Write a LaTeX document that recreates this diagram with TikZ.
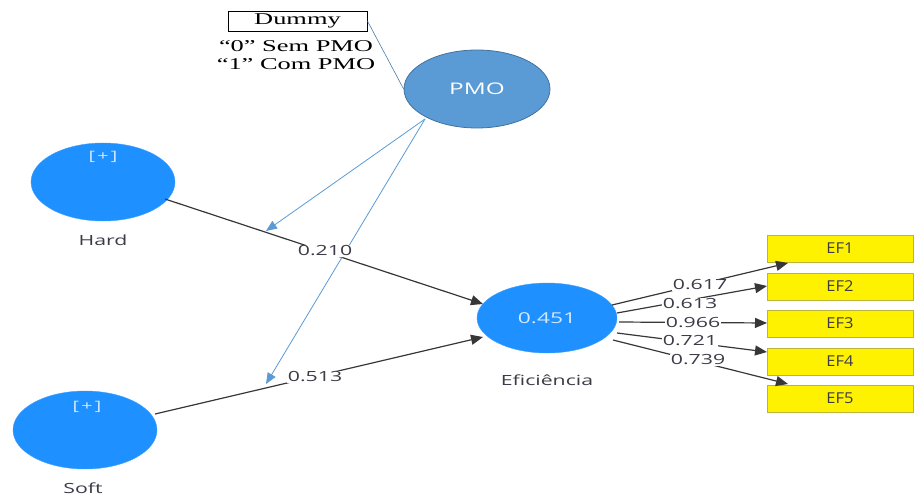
\documentclass[tikz,border=0pt]{standalone}
\usepackage{fontspec}
\setmainfont{Liberation Serif}
\newfontfamily\uifont[FakeStretch=1.52]{Open Sans}
\newfontfamily\uiplain[FakeStretch=1.1]{Open Sans}
\newfontfamily\serifwide[FakeStretch=1.6]{Liberation Serif}
\usetikzlibrary{arrows.meta,shapes.geometric}
\definecolor{lvblue}{RGB}{30,144,255}
\definecolor{pmoblue}{RGB}{91,155,213}
\definecolor{pmoedge}{RGB}{65,113,156}
\definecolor{linegray}{RGB}{55,55,55}
\definecolor{txtgray}{RGB}{60,60,72}
\tikzset{
  latent/.style={ellipse, fill=lvblue, draw=lvblue!85!white, minimum width=144pt, minimum height=78pt, inner sep=0pt},
  indbox/.style={rectangle, fill=yellow, draw=yellow!70!black, line width=0.6pt, minimum width=146pt, minimum height=27pt, font=\uiplain\fontsize{15}{16}\selectfont, text=txtgray},
  lbl/.style={font=\uifont\fontsize{14}{16}\selectfont, text=txtgray},
  coef/.style={fill=white, inner sep=1pt, font=\uifont\fontsize{14}{16}\selectfont, text=txtgray},
  path/.style={draw=linegray, line width=1.2pt, -{Triangle[length=12pt,width=10pt]}},
  modarrow/.style={draw=pmoblue, line width=0.8pt, -{Triangle[length=11pt,width=9pt]}},
  plus/.style={font=\uifont\fontsize{13}{14}\selectfont, text=white!80!lvblue},
  dtext/.style={font=\serifwide\fontsize{16.5}{18}\selectfont, inner sep=0pt}
}
\begin{document}
\begin{tikzpicture}[x=1pt,y=-1pt]
\useasboundingbox (0,0) rectangle (915,495);
% Dummy
\node[draw=black, line width=0.9pt, minimum width=139pt, minimum height=20pt, dtext] (dummy) at (297.5,21) {Dummy};
\node[dtext] (d0) at (296,46) {“0” Sem PMO};
\node[dtext] (d1) at (296,64) {“1” Com PMO};
% PMO
\node[ellipse, fill=pmoblue, draw=pmoedge, line width=0.8pt, minimum width=146pt, minimum height=78pt, font=\uifont\fontsize{16}{18}\selectfont, text=white] (pmo) at (477,89) {PMO};
\draw[draw=pmoblue!80!black, line width=0.6pt] (dummy.east) -- (pmo.west);
% latent variables
\node[latent] (hard) at (103,182) {};
\node[plus] (hplus) at (103,157) {[\,+\,]};
\node[lbl] (hlab) at (103,240) {Hard};
\node[latent] (soft) at (85,430) {};
\node[plus] (splus) at (87,407) {[\,+\,]};
\node[lbl] (slab) at (83,488) {Soft};
\node[latent, minimum width=140pt, minimum height=70pt, font=\uifont\fontsize{15}{17}\selectfont, text=white!80!lvblue] (ef) at (547,318) {0.451};
\node[lbl] (eflab) at (547,380) {Eficiência};
% indicators
\node[indbox] (ef1) at (840,248.5) {EF1};
\node[indbox] (ef2) at (840,286.5) {EF2};
\node[indbox] (ef3) at (840,323.5) {EF3};
\node[indbox] (ef4) at (840,361.5) {EF4};
\node[indbox] (ef5) at (840,398.5) {EF5};
% coordinates
\coordinate (h0) at (165,199);
\coordinate (h1) at (483,304);
\coordinate (s0) at (155,414);
\coordinate (s1) at (483,337);
\coordinate (p0) at (425,119);
\coordinate (m1) at (266,231);
\coordinate (m2) at (266,384);
\coordinate (e1a) at (612,305);
\coordinate (e2a) at (617,313);
\coordinate (e3a) at (619,322);
\coordinate (e4a) at (617,333);
\coordinate (e5a) at (613,340);
\coordinate (e1b) at (788,263);
\coordinate (e2b) at (767,286);
\coordinate (e3b) at (767,323);
\coordinate (e4b) at (767,352);
\coordinate (e5b) at (788,384);
% structural paths
\draw[path] (h0) -- (h1);
\draw[path] (s0) -- (s1);
% moderating arrows
\draw[modarrow] (p0) -- (m1);
\draw[modarrow] (p0) -- (m2);
% coefficients
\node[coef] (c1) at (325,251) {0.210};
\node[coef] (c2) at (315,377) {0.513};
% outer loadings
\draw[path] (e1a) -- (e1b);
\draw[path] (e2a) -- (e2b);
\draw[path] (e3a) -- (e3b);
\draw[path] (e4a) -- (e4b);
\draw[path] (e5a) -- (e5b);
\node[coef] (l1) at (700,285) {0.617};
\node[coef] (l2) at (690,304) {0.613};
\node[coef] (l3) at (693,323) {0.966};
\node[coef] (l4) at (690,341) {0.721};
\node[coef] (l5) at (698,360) {0.739};
\end{tikzpicture}
\end{document}
